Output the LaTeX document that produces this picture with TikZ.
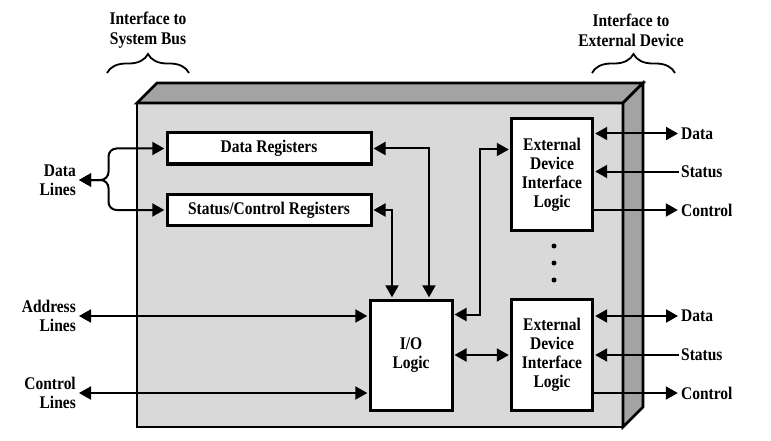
\documentclass[tikz,border=0pt]{standalone}
\usepackage{fontspec}
\setmainfont{Liberation Serif}[FakeStretch=0.87]
\usetikzlibrary{arrows.meta,positioning,calc,decorations.pathreplacing}
\definecolor{faceGray}{RGB}{217,217,217}
\definecolor{edgeGray}{RGB}{163,163,163}

\begin{document}
\begin{tikzpicture}[
  x=1pt, y=-1pt,
  every node/.style={font=\fontsize{17.8}{19}\selectfont\bfseries},
  reg/.style={draw, fill=white, line width=3pt, minimum width=204pt,
              minimum height=31pt, inner sep=0pt},
  logic/.style={draw, fill=white, line width=3pt, minimum width=81pt,
                minimum height=111pt, align=center, inner sep=0pt},
  darr/.style={{Triangle[length=12pt,width=13pt]}-{Triangle[length=12pt,width=13pt]},
               line width=2pt, shorten >=1.2pt, shorten <=1pt},
  sarr/.style={-{Triangle[length=12pt,width=13pt]}, line width=2pt, shorten >=1.2pt},
  lbl/.style={align=right, inner sep=2pt},
  rlbl/.style={anchor=west, inner sep=2pt},
  brc/.style={line width=1.8pt, decorate, decoration={brace, amplitude=19pt}}
]
\useasboundingbox (0,0) rectangle (771,441);

% === I/O module housing ===
\filldraw[fill=faceGray, line width=2.8pt] (137,103) rectangle (623,427);
\filldraw[fill=edgeGray, line width=2.8pt] (137,103) -- (157,83) -- (643,83) -- (623,103) -- cycle;
\filldraw[fill=edgeGray, line width=2.8pt] (623,103) -- (643,83) -- (643,407) -- (623,427) -- cycle;

% === Interface labels ===
\node[align=center, font=\fontsize{17.8}{20}\selectfont\bfseries] (sysbus) at (148,30) {Interface to\\System Bus};
\node[align=center, font=\fontsize{17.8}{20}\selectfont\bfseries] (extdev) at (631,30) {Interface to\\External Device};
\draw[brc] (107,73) -- (189,73);
\draw[brc] (592,73) -- (675,73);

% === Inner blocks ===
\node[reg] (dreg) at (269,148.5) {Data Registers};
\node[reg] (sreg) at (269,210) {Status/Control Registers};
\node[logic, minimum width=82pt, minimum height=110pt] (io) at (411,355) {I/O\\Logic};
\node[logic] (ext1) at (552,174.5) {External\\Device\\Interface\\Logic};
\node[logic] (ext2) at (552,354.5) {External\\Device\\Interface\\Logic};

\foreach \y in {246,263,280} {
  \fill (554,\y) circle (2.5pt);
}

% === System bus side ===
\node[lbl, anchor=east] (dlines) at (78,180) {Data\\Lines};
\node[lbl, anchor=east] (alines) at (78,316) {Address\\Lines};
\node[lbl, anchor=east] (clines) at (78,393) {Control\\Lines};

\draw[darr, rounded corners=8pt] (dlines.east) -| ([xshift=-57pt]dreg.west) -- (dreg.west);
\draw[darr, rounded corners=8pt] (dlines.east) -| ([xshift=-57pt]sreg.west) -- (sreg.west);
\draw[darr] (alines.east) -- (alines.east -| io.west);
\draw[darr] (clines.east) -- (clines.east -| io.west);

% === Internal links ===
\draw[darr] (dreg.east) -| ([xshift=18pt]io.north);
\draw[darr] (sreg.east) -| ([xshift=-19pt]io.north);
\draw[darr] ([yshift=-16pt]io.north east) -| ([xshift=-30pt,yshift=25pt]ext1.west) -- ([yshift=25pt]ext1.west);
\draw[darr] (io.east) -- (io.east -| ext2.west);

% === External device side ===
\node[rlbl] (data1) at (679,133.5) {Data};
\node[rlbl] (stat1) at (679,171.5) {Status};
\node[rlbl] (ctrl1) at (679,210) {Control};
\node[rlbl] (data2) at (679,316) {Data};
\node[rlbl] (stat2) at (679,355) {Status};
\node[rlbl] (ctrl2) at (679,393) {Control};

\draw[darr] (data1.west) -- (data1.west -| ext1.east);
\draw[sarr] (stat1.west) -- (stat1.west -| ext1.east);
\draw[sarr] (ctrl1.west -| ext1.east) -- (ctrl1.west);
\draw[darr] (data2.west) -- (data2.west -| ext2.east);
\draw[sarr] (stat2.west) -- (stat2.west -| ext2.east);
\draw[sarr] (ctrl2.west -| ext2.east) -- (ctrl2.west);

\end{tikzpicture}
\end{document}
